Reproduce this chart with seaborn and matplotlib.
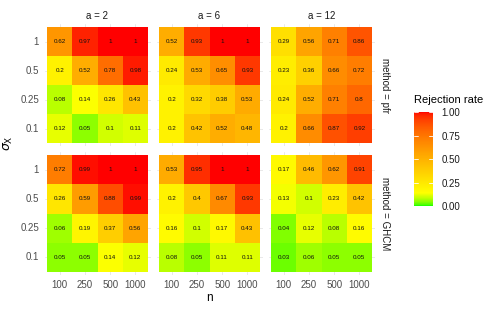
import numpy as np
import pandas as pd
import matplotlib
matplotlib.use("Agg")
import matplotlib.pyplot as plt
from matplotlib.colors import ListedColormap
import seaborn as sns

sns.set_theme(style="white")
plt.rcParams['font.family'] = ['Liberation Sans', 'DejaVu Sans']
plt.rcParams['mathtext.fontset'] = 'dejavusans'

# ---------------- data ----------------
n_values = [100, 250, 500, 1000]
sigma_values = [1, 0.5, 0.25, 0.1]        # top to bottom
a_values = [2, 6, 12]
methods = ["pfr", "GHCM"]

pfr_a2 = [[0.62, 0.97, 1, 1],
          [0.2, 0.52, 0.78, 0.98],
          [0.08, 0.14, 0.26, 0.43],
          [0.12, 0.05, 0.1, 0.11]]
pfr_a6 = [[0.52, 0.93, 1, 1],
          [0.24, 0.53, 0.65, 0.93],
          [0.2, 0.32, 0.38, 0.53],
          [0.2, 0.42, 0.52, 0.48]]
pfr_a12 = [[0.29, 0.56, 0.71, 0.86],
           [0.23, 0.36, 0.66, 0.72],
           [0.24, 0.52, 0.71, 0.8],
           [0.2, 0.66, 0.87, 0.92]]
ghcm_a2 = [[0.72, 0.99, 1, 1],
           [0.26, 0.59, 0.88, 0.99],
           [0.06, 0.19, 0.37, 0.56],
           [0.05, 0.05, 0.14, 0.12]]
ghcm_a6 = [[0.53, 0.95, 1, 1],
           [0.2, 0.4, 0.67, 0.93],
           [0.16, 0.1, 0.17, 0.43],
           [0.08, 0.05, 0.11, 0.11]]
ghcm_a12 = [[0.17, 0.46, 0.62, 0.91],
            [0.13, 0.1, 0.23, 0.42],
            [0.04, 0.12, 0.08, 0.16],
            [0.03, 0.06, 0.05, 0.05]]

panels = {("pfr", 2): pfr_a2, ("pfr", 6): pfr_a6, ("pfr", 12): pfr_a12,
          ("GHCM", 2): ghcm_a2, ("GHCM", 6): ghcm_a6, ("GHCM", 12): ghcm_a12}

# ---------------- colour map (Lab interpolation like ggplot) ----------------
def srgb_to_lab(rgb):
    rgb = np.asarray(rgb, float)
    lin = np.where(rgb <= 0.04045, rgb / 12.92, ((rgb + 0.055) / 1.055) ** 2.4)
    M = np.array([[0.4124564, 0.3575761, 0.1804375],
                  [0.2126729, 0.7151522, 0.0721750],
                  [0.0193339, 0.1191920, 0.9503041]])
    xyz = M @ lin
    wp = np.array([0.95047, 1.0, 1.08883])
    t = xyz / wp
    f = np.where(t > (6/29) ** 3, np.cbrt(t), t / (3 * (6/29) ** 2) + 4/29)
    return np.array([116 * f[1] - 16, 500 * (f[0] - f[1]), 200 * (f[1] - f[2])])

def lab_to_srgb(lab):
    L, a, b = lab
    fy = (L + 16) / 116
    fx = fy + a / 500
    fz = fy - b / 200
    def finv(f):
        return np.where(f > 6/29, f ** 3, 3 * (6/29) ** 2 * (f - 4/29))
    wp = np.array([0.95047, 1.0, 1.08883])
    xyz = np.array([finv(fx), finv(fy), finv(fz)]) * wp
    Minv = np.array([[3.2404542, -1.5371385, -0.4985314],
                     [-0.9692660, 1.8760108, 0.0415560],
                     [0.0556434, -0.2040259, 1.0572252]])
    lin = np.clip(Minv @ xyz, 0, 1)
    rgb = np.where(lin <= 0.0031308, 12.92 * lin, 1.055 * lin ** (1/2.4) - 0.055)
    return np.clip(rgb, 0, 1)

stops = [0.0, 0.14, 1.0]
stop_cols = [(0, 1, 0), (1, 1, 0), (1, 0, 0)]
stop_labs = [srgb_to_lab(c) for c in stop_cols]
cols = []
for v in np.linspace(0, 1, 256):
    for i in range(len(stops) - 1):
        if stops[i] <= v <= stops[i + 1]:
            t = (v - stops[i]) / (stops[i + 1] - stops[i])
            cols.append(lab_to_srgb(stop_labs[i] * (1 - t) + stop_labs[i + 1] * t))
            break
cmap = ListedColormap(cols)

# ---------------- layout ----------------
W, H = 501, 311
fig = plt.figure(figsize=(W / 100, H / 100), dpi=100)
fig.patch.set_facecolor("white")

def rect(x0, y0, x1, y1):
    return [x0 / W, 1 - y1 / H, (x1 - x0) / W, (y1 - y0) / H]

col_x = [(44.5, 150.5), (156.5, 262.5), (268.5, 374.5)]
row_y = [(24.1, 146.0), (152.1, 274.9)]

cbar_ax = fig.add_axes(rect(414, 112, 433, 206))

tick_col = "#4D4D4D"
strip_col = "#1A1A1A"
first = True
for r, m in enumerate(methods):
    for c, a in enumerate(a_values):
        ax = fig.add_axes(rect(col_x[c][0], row_y[r][0], col_x[c][1], row_y[r][1]))
        mat = np.array(panels[(m, a)], float)
        df = pd.DataFrame(mat, index=sigma_values, columns=n_values)
        annot = np.array([[f"{v:g}" for v in row] for row in mat])
        sns.heatmap(df, ax=ax, cmap=cmap, vmin=0, vmax=1, annot=annot, fmt="",
                    annot_kws={"fontsize": 4.5, "color": "#111111"},
                    cbar=first, cbar_ax=cbar_ax if first else None,
                    linewidths=0, square=False)
        first = False
        ax.set_xlim(-0.1, 4.1)
        ax.set_ylim(4.1, -0.1)
        ax.set_axisbelow(True)
        ax.grid(True, color="#E5E5E5", lw=0.6)
        ax.tick_params(length=0, pad=4, labelsize=7, colors=tick_col)
        ax.set_xlabel("")
        ax.set_ylabel("")
        if c == 0:
            ax.set_yticklabels([f"{s:g}" for s in sigma_values], rotation=0)
        else:
            ax.set_yticklabels([])
        if r == 1:
            ax.set_xticklabels([str(n) for n in n_values], rotation=0)
        else:
            ax.set_xticklabels([])
        if r == 0:
            ax.set_title(f"a = {a}", fontsize=7, color=strip_col, pad=3.5)
        if c == 2:
            ax.text(1.095, 0.5, f"method = {m}", transform=ax.transAxes,
                    rotation=-90, va="center", ha="center", fontsize=7,
                    color=strip_col)

fig.text(8 / W, 1 - 143 / H, r"$\sigma_\mathrm{X}$", rotation=90, fontsize=9,
         ha="center", va="center", color="black")
fig.text((156.5 + 262.5) / 2 / W, 1 - 298 / H, "n", fontsize=8.5,
         ha="center", va="center", color="black")

# colorbar styling
cbar_ax.set_ylim(0, 1)
cbar_ax.set_yticks([0, 0.25, 0.5, 0.75, 1.0])
cbar_ax.set_yticklabels(["0.00", "0.25", "0.50", "0.75", "1.00"])
cbar_ax.tick_params(length=0, pad=6, labelsize=7, colors="#1A1A1A")
for yv in [0, 0.25, 0.5, 0.75, 1.0]:
    cbar_ax.plot([0, 0.2], [yv, yv], color="white", lw=0.6, transform=cbar_ax.get_yaxis_transform())
    cbar_ax.plot([0.8, 1], [yv, yv], color="white", lw=0.6, transform=cbar_ax.get_yaxis_transform())
for s in cbar_ax.spines.values():
    s.set_visible(False)
fig.text(414 / W, 1 - 100 / H, "Rejection rate", fontsize=8, ha="left",
         va="center", color="black")

fig.savefig("out.png", dpi=100, facecolor="white")
